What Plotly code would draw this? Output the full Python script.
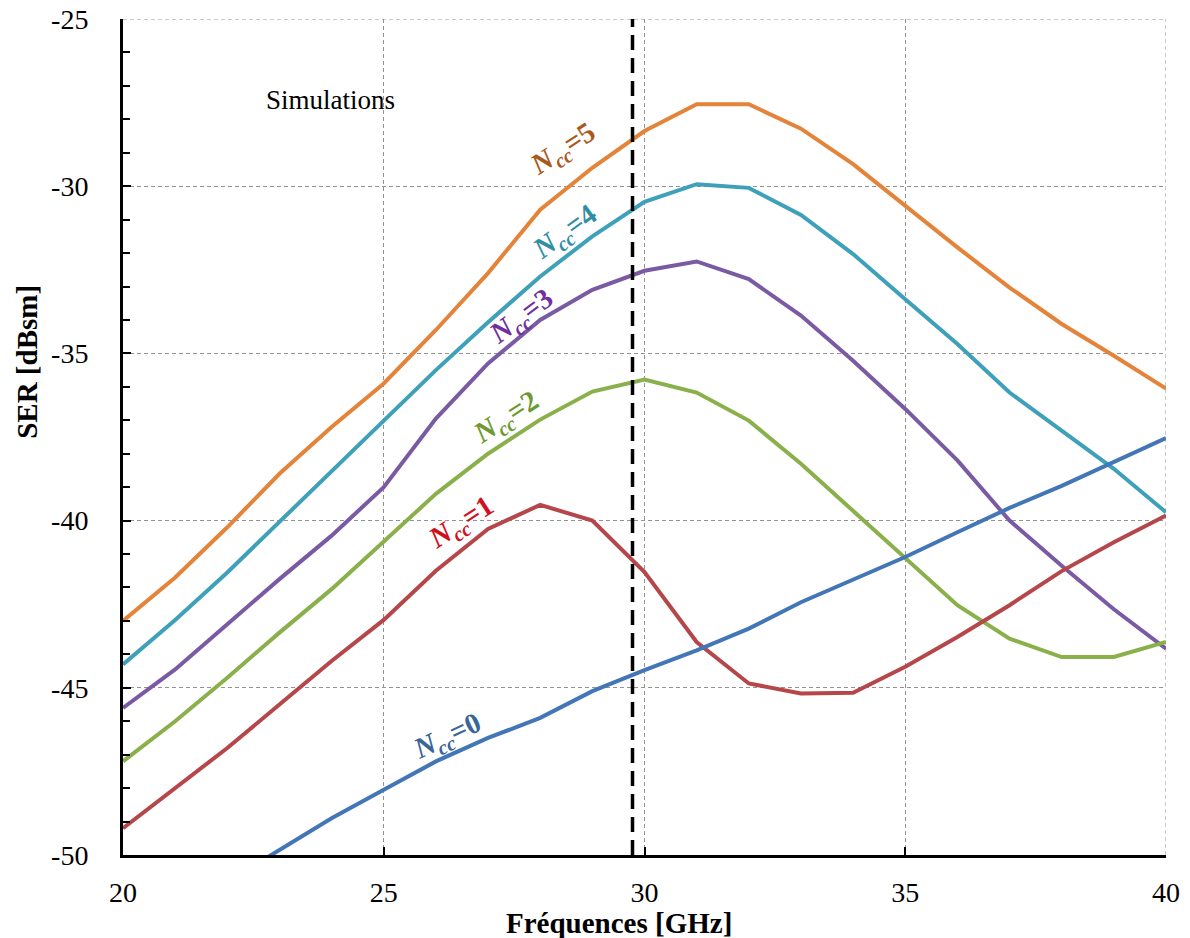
import plotly.graph_objects as go

freq = list(range(20, 41))

ser_ncc5 = [-43.0, -41.7, -40.2, -38.6, -37.2, -35.9, -34.3, -32.6, -30.7, -29.45, -28.35,
            -27.55, -27.55, -28.28, -29.34, -30.6, -31.83, -33.03, -34.12, -35.07, -36.05]
ser_ncc4 = [-44.3, -42.97, -41.55, -40.03, -38.54, -37.0, -35.5, -34.07, -32.7, -31.5, -30.47,
            -29.94, -30.05, -30.86, -32.03, -33.38, -34.72, -36.17, -37.31, -38.45, -39.75]
ser_ncc3 = [-45.6, -44.45, -43.1, -41.75, -40.45, -39.0, -36.95, -35.3, -34.0, -33.1, -32.53,
            -32.25, -32.78, -33.87, -35.22, -36.66, -38.2, -40.0, -41.35, -42.65, -43.83]
ser_ncc2 = [-47.2, -46.0, -44.7, -43.35, -42.05, -40.63, -39.2, -38.0, -36.98, -36.14, -35.78,
            -36.17, -37.01, -38.3, -39.7, -41.09, -42.53, -43.53, -44.08, -44.08, -43.63]
ser_ncc1 = [-49.2, -48.0, -46.8, -45.5, -44.2, -42.97, -41.5, -40.25, -39.53, -40.0, -41.54,
            -43.63, -44.87, -45.17, -45.15, -44.37, -43.48, -42.53, -41.51, -40.65, -39.85]
ser_ncc0 = [None, None, -50.8, -49.85, -48.9, -48.05, -47.2, -46.5, -45.9, -45.1, -44.47,
            -43.88, -43.23, -42.44, -41.77, -41.09, -40.35, -39.62, -38.96, -38.26, -37.53]

marker_freq = 29.77
x_ticks = [20, 25, 30, 35, 40]
x_ticktext = ["20", "25", "30", "35", "40"]
y_ticks = [-50, -45, -40, -35, -30, -25]
y_ticktext = ["-50", "-45", "-40", "-35", "-30", "-25"]

x_title = "<b>Fréquences [GHz]</b>"
y_title = "<b>SER [dBsm]</b>"

series = [
    ("N<sub>cc</sub>=5", ser_ncc5, "#E3843A"),
    ("N<sub>cc</sub>=4", ser_ncc4, "#3FA0B9"),
    ("N<sub>cc</sub>=3", ser_ncc3, "#7A5BA3"),
    ("N<sub>cc</sub>=2", ser_ncc2, "#8AB04B"),
    ("N<sub>cc</sub>=1", ser_ncc1, "#B5474A"),
    ("N<sub>cc</sub>=0", ser_ncc0, "#4276B6"),
]

# label: (x, y, angle, color, text)
labels = [
    (28.44, -28.92, -33, "#A85A1E", "<b><i>N</i><sub><i>cc</i></sub>=5</b>"),
    (28.48, -31.4, -36, "#2F8EA6", "<b><i>N</i><sub><i>cc</i></sub>=4</b>"),
    (27.65, -33.9, -37, "#7030A0", "<b><i>N</i><sub><i>cc</i></sub>=3</b>"),
    (27.36, -36.93, -33, "#6C9A30", "<b><i>N</i><sub><i>cc</i></sub>=2</b>"),
    (26.5, -40.07, -33, "#D01020", "<b><i>N</i><sub><i>cc</i></sub>=1</b>"),
    (26.23, -46.47, -25, "#3A6597", "<b><i>N</i><sub><i>cc</i></sub>=0</b>"),
]

serif = "Liberation Serif, Times New Roman, serif"
grid_col = "#939393"
grid_dash = "4px,3px"

fig = go.Figure()
for name, vals, col in series:
    fig.add_trace(go.Scatter(x=freq, y=vals, mode="lines", name=name,
                             line=dict(color=col, width=4), connectgaps=False))

fig.add_trace(go.Scatter(x=[marker_freq, marker_freq], y=[-50, -25], mode="lines",
                         line=dict(color="black", width=3.5, dash="15px,8px"),
                         showlegend=False, hoverinfo="skip"))

for x, y, ang, col, txt in labels:
    fig.add_annotation(x=x, y=y, text=txt, textangle=ang, showarrow=False,
                       font=dict(family=serif, size=29, color=col))

fig.add_annotation(x=23.97, y=-27.42, text="Simulations", showarrow=False,
                   font=dict(family=serif, size=27, color="black"))

# axis titles (placed off-centre as in the original)
fig.add_annotation(xref="paper", yref="paper", x=0.4755, y=-0.081, text=x_title,
                   showarrow=False, xanchor="center", yanchor="middle",
                   font=dict(family=serif, size=29, color="black"))
fig.add_annotation(xref="paper", yref="paper", x=-0.092, y=0.59, text=y_title,
                   textangle=-90, showarrow=False, xanchor="center", yanchor="middle",
                   font=dict(family=serif, size=29, color="black"))

# edge grid lines (right and top) that plotly omits
fig.add_shape(type="line", xref="x", yref="y", x0=40, x1=40, y0=-50, y1=-25,
              line=dict(color=grid_col, width=1, dash=grid_dash), layer="below")
fig.add_shape(type="line", xref="x", yref="y", x0=20, x1=40, y0=-25, y1=-25,
              line=dict(color=grid_col, width=1, dash=grid_dash), layer="below")

fig.update_layout(
    width=1190, height=938,
    margin=dict(l=123, r=24, t=19, b=83, autoexpand=False),
    paper_bgcolor="white", plot_bgcolor="white",
    showlegend=False,
    font=dict(family=serif, size=28, color="black"),
)
fig.update_xaxes(
    range=[20, 40], tickvals=x_ticks, ticktext=x_ticktext,
    ticks="inside", ticklen=8, tickwidth=2, tickcolor="black",
    showline=True, linewidth=3, linecolor="black",
    showgrid=True, gridcolor=grid_col, griddash=grid_dash, gridwidth=1,
    zeroline=False, ticklabelstandoff=10, automargin=False,
    tickfont=dict(family=serif, size=28),
)
fig.update_yaxes(
    range=[-50, -25], tickvals=y_ticks, ticktext=y_ticktext,
    ticks="inside", ticklen=8, tickwidth=2, tickcolor="black",
    minor=dict(dtick=1, ticks="inside", ticklen=7, tickwidth=2, tickcolor="black", showgrid=False),
    showline=True, linewidth=3, linecolor="black",
    showgrid=True, gridcolor=grid_col, griddash=grid_dash, gridwidth=1,
    zeroline=False, ticklabelstandoff=26, automargin=False,
    tickfont=dict(family=serif, size=28),
)

fig.write_html("out.html", config={"displayModeBar": False},
               post_script="document.body.style.margin='0';")
